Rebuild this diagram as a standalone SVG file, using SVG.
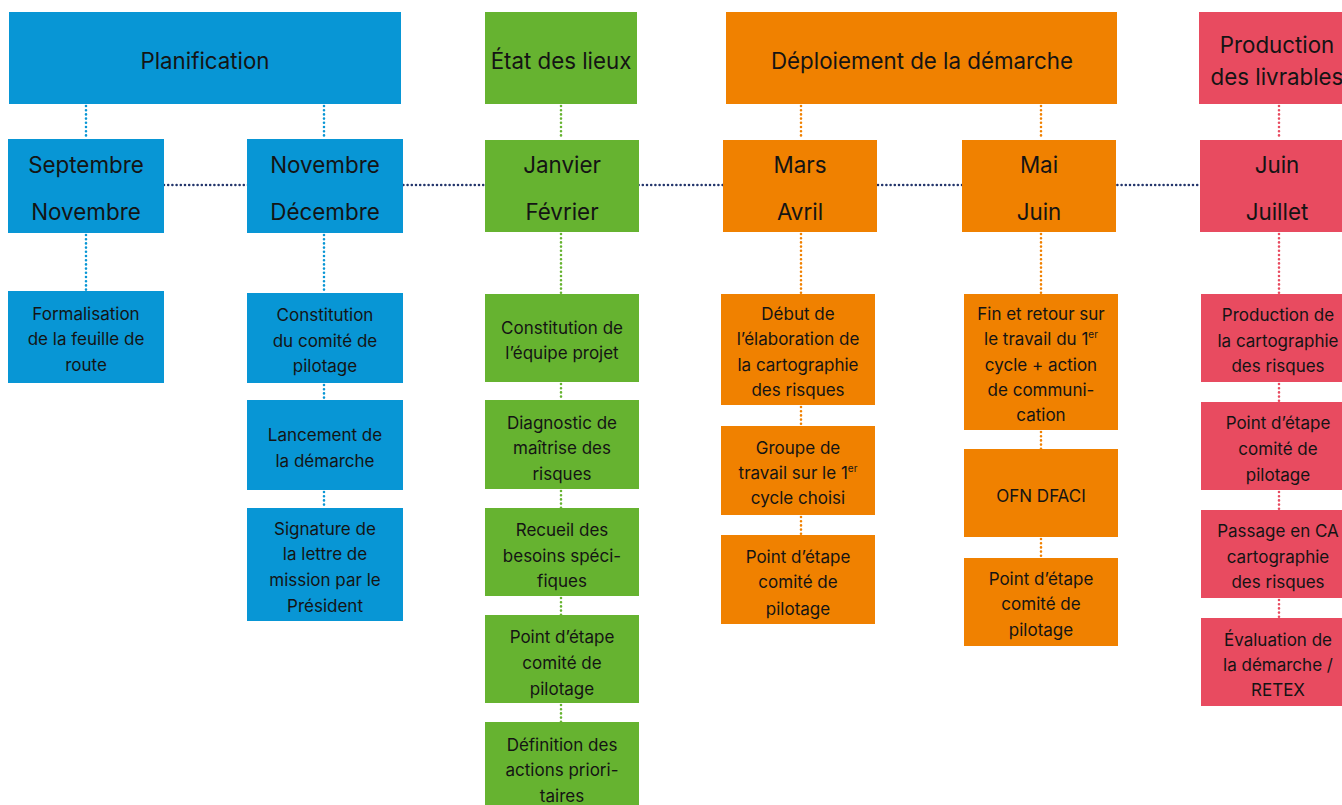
<svg xmlns="http://www.w3.org/2000/svg" width="1342" height="805" viewBox="0 0 1342 805">
<style>
text{font-family:Inter,"Noto Sans","Liberation Sans",sans-serif;fill:#141414;text-anchor:middle}
.h{font-size:22.3px}
.m{font-size:22.4px}
.t{font-size:17px}
.blue{fill:#0896d5}
.green{fill:#66b330}
.orange{fill:#f08100}
.red{fill:#e84b60}
.c{fill:none;stroke-width:2.6;stroke-linecap:round;stroke-dasharray:0 4.2}
.cb{stroke:#0896d5}.cg{stroke:#66b330}.co{stroke:#f08100}.cr{stroke:#e84b60}
.cn{stroke:#23356b}
.sup{font-size:10px}
</style>
<rect width="1342" height="805" fill="#fff"/>
<g id="connectors">
<line class="c cn" x1="164" y1="185" x2="1200" y2="185"/>
<line class="c cb" x1="86" y1="106" x2="86" y2="139"/>
<line class="c cb" x1="324" y1="106" x2="324" y2="139"/>
<line class="c cg" x1="561" y1="106" x2="561" y2="139"/>
<line class="c co" x1="801" y1="106" x2="801" y2="139"/>
<line class="c co" x1="1041" y1="106" x2="1041" y2="139"/>
<line class="c cr" x1="1279" y1="106" x2="1279" y2="139"/>
<line class="c cb" x1="86" y1="235" x2="86" y2="291"/>
<line class="c cb" x1="324" y1="235" x2="324" y2="293"/>
<line class="c cb" x1="324" y1="385" x2="324" y2="400"/>
<line class="c cb" x1="324" y1="492" x2="324" y2="508"/>
<line class="c cg" x1="561" y1="234" x2="561" y2="294"/>
<line class="c cg" x1="561" y1="384" x2="561" y2="400"/>
<line class="c cg" x1="561" y1="491" x2="561" y2="508"/>
<line class="c cg" x1="561" y1="598" x2="561" y2="615"/>
<line class="c cg" x1="561" y1="705" x2="561" y2="722"/>
<line class="c co" x1="801" y1="234" x2="801" y2="294"/>
<line class="c co" x1="801" y1="407" x2="801" y2="426"/>
<line class="c co" x1="801" y1="517" x2="801" y2="535"/>
<line class="c co" x1="1041" y1="234" x2="1041" y2="294"/>
<line class="c co" x1="1041" y1="432" x2="1041" y2="449"/>
<line class="c co" x1="1041" y1="539" x2="1041" y2="558"/>
<line class="c cr" x1="1279" y1="234" x2="1279" y2="294"/>
<line class="c cr" x1="1279" y1="384" x2="1279" y2="402"/>
<line class="c cr" x1="1279" y1="492" x2="1279" y2="510"/>
<line class="c cr" x1="1279" y1="600" x2="1279" y2="618"/>
</g>
<g id="planification"><rect class="blue" x="9" y="12" width="392" height="92"/><text class="h" x="205" y="69">Planification</text></g>
<g id="etat"><rect class="green" x="485" y="12" width="152" height="92"/><text class="h" x="561" y="69">État des lieux</text></g>
<g id="deploiement"><rect class="orange" x="726" y="12" width="391" height="92"/><text class="h" x="922" y="69">Déploiement de la démarche</text></g>
<g id="production"><rect class="red" x="1199" y="12" width="160" height="92"/><text class="h" x="1277" y="53">Production</text><text class="h" x="1277" y="85">des livrables</text></g>

<g id="sept-nov"><rect class="blue" x="8" y="139" width="156" height="94"/><text class="m" x="86" y="173">Septembre</text><text class="m" x="86" y="220">Novembre</text></g>
<g id="nov-dec"><rect class="blue" x="247" y="139" width="156" height="94"/><text class="m" x="325" y="173">Novembre</text><text class="m" x="325" y="220">Décembre</text></g>
<g id="jan-fev"><rect class="green" x="485" y="140" width="154" height="92"/><text class="m" x="562" y="173">Janvier</text><text class="m" x="562" y="220">Février</text></g>
<g id="mars-avril"><rect class="orange" x="723" y="140" width="154" height="92"/><text class="m" x="800" y="173">Mars</text><text class="m" x="800" y="220">Avril</text></g>
<g id="mai-juin"><rect class="orange" x="962" y="140" width="154" height="92"/><text class="m" x="1039" y="173">Mai</text><text class="m" x="1039" y="220">Juin</text></g>
<g id="juin-juillet"><rect class="red" x="1200" y="140" width="160" height="92"/><text class="m" x="1277" y="173">Juin</text><text class="m" x="1277" y="220">Juillet</text></g>

<g id="formalisation"><rect class="blue" x="8" y="291" width="156" height="92"/><text class="t" x="86" y="320">Formalisation</text><text class="t" x="86" y="345">de la feuille de</text><text class="t" x="86" y="371">route</text></g>
<g id="constitution-comite"><rect class="blue" x="247" y="293" width="156" height="90"/><text class="t" x="325" y="321">Constitution</text><text class="t" x="325" y="347">du comité de</text><text class="t" x="325" y="372">pilotage</text></g>
<g id="lancement"><rect class="blue" x="247" y="400" width="156" height="90"/><text class="t" x="325" y="441">Lancement de</text><text class="t" x="325" y="467">la démarche</text></g>
<g id="signature"><rect class="blue" x="247" y="508" width="156" height="113"/><text class="t" x="325" y="535">Signature de</text><text class="t" x="325" y="560">la lettre de</text><text class="t" x="325" y="586">mission par le</text><text class="t" x="325" y="612">Président</text></g>

<g id="constitution-equipe"><rect class="green" x="485" y="294" width="154" height="88"/><text class="t" x="562" y="334">Constitution de</text><text class="t" x="562" y="359">l’équipe projet</text></g>
<g id="diagnostic"><rect class="green" x="485" y="400" width="154" height="89"/><text class="t" x="562" y="429">Diagnostic de</text><text class="t" x="562" y="454">maîtrise des</text><text class="t" x="562" y="480">risques</text></g>
<g id="recueil"><rect class="green" x="485" y="508" width="154" height="88"/><text class="t" x="562" y="536">Recueil des</text><text class="t" x="562" y="562">besoins spéci-</text><text class="t" x="562" y="587">fiques</text></g>
<g id="point-green"><rect class="green" x="485" y="615" width="154" height="88"/><text class="t" x="562" y="643">Point d’étape</text><text class="t" x="562" y="669">comité de</text><text class="t" x="562" y="695">pilotage</text></g>
<g id="definition"><rect class="green" x="485" y="722" width="154" height="90"/><text class="t" x="562" y="751">Définition des</text><text class="t" x="562" y="776">actions priori-</text><text class="t" x="562" y="802">taires</text></g>

<g id="debut"><rect class="orange" x="721" y="294" width="154" height="111"/><text class="t" x="798" y="320">Début de</text><text class="t" x="798" y="345">l’élaboration de</text><text class="t" x="798" y="371">la cartographie</text><text class="t" x="798" y="396">des risques</text></g>
<g id="groupe"><rect class="orange" x="721" y="426" width="154" height="89"/><text class="t" x="798" y="454">Groupe de</text><text class="t" x="798" y="479">travail sur le 1<tspan class="sup" dy="-7">er</tspan></text><text class="t" x="798" y="504">cycle choisi</text></g>
<g id="point-mars"><rect class="orange" x="721" y="535" width="154" height="89"/><text class="t" x="798" y="563">Point d’étape</text><text class="t" x="798" y="588">comité de</text><text class="t" x="798" y="615">pilotage</text></g>

<g id="fin-retour"><rect class="orange" x="964" y="294" width="154" height="136"/><text class="t" x="1041" y="320">Fin et retour sur</text><text class="t" x="1041" y="345">le travail du 1<tspan class="sup" dy="-7">er</tspan></text><text class="t" x="1041" y="371">cycle + action</text><text class="t" x="1041" y="396">de communi-</text><text class="t" x="1041" y="421">cation</text></g>
<g id="ofn"><rect class="orange" x="964" y="449" width="154" height="88"/><text class="t" x="1041" y="502">OFN DFACI</text></g>
<g id="point-mai"><rect class="orange" x="964" y="558" width="154" height="88"/><text class="t" x="1041" y="585">Point d’étape</text><text class="t" x="1041" y="610">comité de</text><text class="t" x="1041" y="636">pilotage</text></g>

<g id="production-carto"><rect class="red" x="1201" y="294" width="160" height="88"/><text class="t" x="1278" y="321">Production de</text><text class="t" x="1278" y="347">la cartographie</text><text class="t" x="1278" y="372">des risques</text></g>
<g id="point-red"><rect class="red" x="1201" y="402" width="160" height="88"/><text class="t" x="1278" y="429">Point d’étape</text><text class="t" x="1278" y="455">comité de</text><text class="t" x="1278" y="481">pilotage</text></g>
<g id="passage"><rect class="red" x="1201" y="510" width="160" height="88"/><text class="t" x="1278" y="537">Passage en CA</text><text class="t" x="1278" y="563">cartographie</text><text class="t" x="1278" y="588">des risques</text></g>
<g id="evaluation"><rect class="red" x="1201" y="618" width="160" height="88"/><text class="t" x="1278" y="646">Évaluation de</text><text class="t" x="1278" y="671">la démarche /</text><text class="t" x="1278" y="696">RETEX</text></g>
</svg>
